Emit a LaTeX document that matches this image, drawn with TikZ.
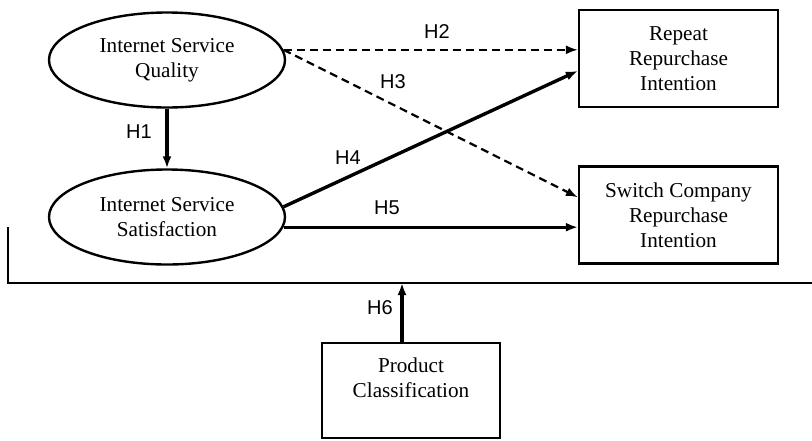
\documentclass[tikz,border=0pt]{standalone}
\usepackage{fontspec}
\setmainfont{Liberation Serif}
\setsansfont{Liberation Sans}
\usetikzlibrary{shapes.geometric,arrows.meta}

\begin{document}
\begin{tikzpicture}[x=0.5pt,y=-0.5pt,
  construct/.style={ellipse,draw,line width=1.2pt,inner sep=0pt,
    minimum width=118pt,minimum height=47.5pt,align=center,
    font=\fontsize{10.6}{12.5}\selectfont},
  intention/.style={rectangle,draw,line width=1.1pt,inner sep=0pt,
    minimum width=99.5pt,minimum height=48.5pt,align=center,
    font=\fontsize{10.6}{12.5}\selectfont},
  hyp/.style={line width=1.7pt,-{Latex[length=6pt,width=4.5pt]}},
  hypdash/.style={hyp,line width=1.1pt,dash pattern=on 4pt off 2.5pt},
  hlabel/.style={font=\sffamily\fontsize{10}{12}\selectfont,inner sep=0pt}]

\useasboundingbox (0,0) rectangle (812,440);

\node[construct] (quality) at (167,60) {Internet Service\\Quality};
\node[construct] (satisf) at (167,217) {Internet Service\\Satisfaction};
\node[intention] (repeat) at (678.5,58.5) {Repeat\\Repurchase\\Intention};
\node[intention] (switch) at (678.5,215) {Switch Company\\Repurchase\\Intention};
\node[intention,minimum width=89pt,minimum height=47.5pt] (product) at (411,390.5)
  {Product\\Classification\\\mbox{}};

% moderating bar
\coordinate (bartop) at (8,227);
\coordinate (barleft) at (8,283);
\coordinate (barright) at (812,283);
\draw[line width=1.1pt] (bartop) -- (barleft) -- (barright);

% hypotheses
\draw[hyp] (quality.south) -- (satisf.north);
\draw[hypdash] (quality.5) -- (quality.5 -| repeat.west);
\draw[hypdash] (quality.5) -- (switch.170);
\draw[hyp] (satisf.5) -- (repeat.187);
\draw[hyp] (satisf.-5) -- (satisf.-5 -| switch.west);
\coordinate (h6foot) at ([xshift=-4.5pt]product.north);
\draw[hyp] (h6foot) -- (h6foot |- barleft);

\node[hlabel] (h1) at (139,132) {H1};
\node[hlabel] (h2) at (437,32) {H2};
\node[hlabel] (h3) at (393,82) {H3};
\node[hlabel] (h4) at (348,158) {H4};
\node[hlabel] (h5) at (387,208) {H5};
\node[hlabel] (h6) at (380,308) {H6};
\end{tikzpicture}
\end{document}
